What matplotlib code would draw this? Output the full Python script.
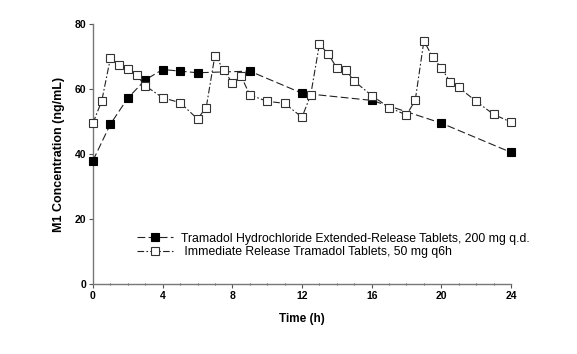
import matplotlib
matplotlib.use("Agg")
import matplotlib.pyplot as plt
from matplotlib.ticker import MultipleLocator

# ── Data ─────────────────────────────────────────
er_time = [0, 1, 2, 3, 4, 5, 6, 9, 12, 16, 20, 24]
er_conc = [38, 49.2, 57.2, 62.8, 66, 65.5, 65, 65.5, 58.7, 56.5, 49.5, 40.5]

ir_time = [0, 0.5, 1, 1.5, 2, 2.5, 3, 4, 5, 6, 6.5, 7, 7.5, 8, 8.5, 9, 10, 11,
           12, 12.5, 13, 13.5, 14, 14.5, 15, 16, 17, 18, 18.5, 19, 19.5, 20,
           20.5, 21, 22, 23, 24]
ir_conc = [49.5, 56.3, 69.5, 67.3, 66.3, 64.3, 61, 57.3, 55.8, 50.8, 54.3, 70.3,
           66, 61.8, 64, 58.2, 56.2, 55.6, 51.3, 58.2, 73.8, 70.8, 66.5, 66,
           62.4, 58, 54.3, 52, 56.5, 74.8, 69.8, 66.5, 62.2, 60.5, 56.2, 52.2, 49.8]

er_label = "Tramadol Hydrochloride Extended-Release Tablets, 200 mg q.d."
ir_label = " Immediate Release Tramadol Tablets, 50 mg q6h"

plt.rcParams['font.family'] = ['Liberation Sans', 'DejaVu Sans']

fig = plt.figure(figsize=(5.77, 3.54), dpi=100)
ax = fig.add_axes([93 / 577, 70 / 354, 418 / 577, 260 / 354])

ax.plot(er_time, er_conc, color="#222222", linewidth=0.8, dashes=(7, 3),
        marker="s", markersize=6, markerfacecolor="black",
        markeredgecolor="black", markeredgewidth=0.8, label=er_label,
        clip_on=False, zorder=3)
ax.plot(ir_time, ir_conc, color="#222222", linewidth=0.8, dashes=(6, 2, 1.5, 2),
        marker="s", markersize=6, markerfacecolor="white",
        markeredgecolor="#333333", markeredgewidth=0.8, label=ir_label,
        clip_on=False, zorder=3)

ax.set_xlim(0, 24)
ax.set_ylim(0, 80)
ax.xaxis.set_major_locator(MultipleLocator(4))
ax.xaxis.set_minor_locator(MultipleLocator(1))
ax.yaxis.set_major_locator(MultipleLocator(20))

for side in ("top", "right"):
    ax.spines[side].set_visible(False)
for side in ("left", "bottom"):
    ax.spines[side].set_color("#777777")
    ax.spines[side].set_linewidth(1.0)

ax.tick_params(which="major", length=3, width=0.8, color="#555555",
               labelsize=7.5, pad=2)
ax.tick_params(axis="x", which="minor", length=2, width=0.8, color="#555555",
               direction="inout")
for lbl in ax.get_xticklabels() + ax.get_yticklabels():
    lbl.set_fontweight("bold")

ax.set_xlabel("Time (h)", fontsize=8.5, fontweight="bold", labelpad=9)
ax.set_ylabel("M1 Concentration (ng/mL)", fontsize=9, fontweight="bold",
              labelpad=7)

ax.legend(loc="upper left", bbox_to_anchor=(128 / 577, 1 - 224 / 354),
          bbox_transform=fig.transFigure, frameon=False, fontsize=8.8,
          handlelength=3, handletextpad=0.6, labelspacing=0.1,
          borderpad=0.2)

fig.savefig("out.png", dpi=100)
plt.close(fig)
